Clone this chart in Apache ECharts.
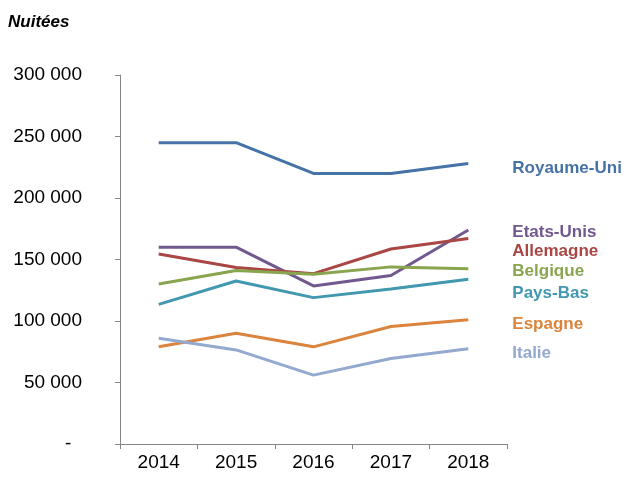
<!DOCTYPE html>
<html>
<head>
<meta charset="utf-8">
<script src="https://cdn.jsdelivr.net/npm/echarts@6/dist/echarts.min.js"></script>
<style>
  html, body { margin: 0; padding: 0; background: #fff; }
  #main { width: 636px; height: 477px; }
</style>
</head>
<body>
<div id="main"></div>
<script>
const years = ['2014', '2015', '2016', '2017', '2018'];
const yTicks = [0, 50000, 100000, 150000, 200000, 250000, 300000];

const royaumeUni = [245000, 245000, 220000, 220000, 228000];
const etatsUnis = [160000, 160000, 128500, 137000, 174000];
const allemagne = [154500, 143500, 138500, 158500, 167000];
const belgique = [130000, 141000, 138000, 144000, 142500];
const paysBas = [113500, 132500, 119000, 126000, 134000];
const espagne = [79000, 90000, 79000, 95500, 101000];
const italie = [86000, 76500, 56000, 69500, 77500];

const names = ['Royaume-Uni', 'Etats-Unis', 'Allemagne', 'Belgique', 'Pays-Bas', 'Espagne', 'Italie'];
const values = [royaumeUni, etatsUnis, allemagne, belgique, paysBas, espagne, italie];
const colors = ['#4572A7', '#71588F', '#AA4643', '#89A54E', '#4198AF', '#DB843D', '#93A9CF'];
// where the name label sits relative to the 2018 point
const labelShift = [[36, 5], [36, 2], [36, 13], [36, 3], [36, 14], [36, 5], [36, 5]];

function fmt(v) {
    if (v === 0) return '-  ';
    return String(v).replace(/\B(?=(\d{3})+(?!\d))/g, ' ');
}

const chart = echarts.init(document.getElementById('main'), null, { renderer: 'canvas' });

const option = {
    animation: false,
    textStyle: { fontFamily: 'Liberation Sans, Arial, sans-serif' },
    title: {
        text: 'Nuitées',
        left: 3,
        top: 9,
        textStyle: { fontSize: 17, fontWeight: 'bold', fontStyle: 'italic', color: '#000' }
    },
    grid: { left: 120, right: 129, top: 75, bottom: 33 },
    xAxis: {
        type: 'category',
        data: years,
        boundaryGap: true,
        axisLine: { lineStyle: { color: '#868686', width: 1 } },
        axisTick: { show: true, length: 5, lineStyle: { color: '#868686' } },
        axisLabel: { color: '#000', fontSize: 19, margin: 9 }
    },
    yAxis: {
        type: 'value',
        min: yTicks[0],
        max: yTicks[yTicks.length - 1],
        interval: 50000,
        splitLine: { show: false },
        axisLine: { show: true, lineStyle: { color: '#868686', width: 1 } },
        axisTick: { show: true, length: 5, lineStyle: { color: '#868686' } },
        axisLabel: { color: '#000', fontSize: 19, margin: 38, formatter: fmt }
    },
    series: names.map((n, i) => ({
        name: n,
        type: 'line',
        data: values[i],
        symbol: 'none',
        lineStyle: { width: 3, color: colors[i] },
        itemStyle: { color: colors[i] },
        endLabel: {
            show: true,
            formatter: n,
            color: colors[i],
            fontSize: 17,
            fontWeight: 'bold',
            offset: labelShift[i]
        }
    }))
};

chart.setOption(option);
</script>
</body>
</html>
